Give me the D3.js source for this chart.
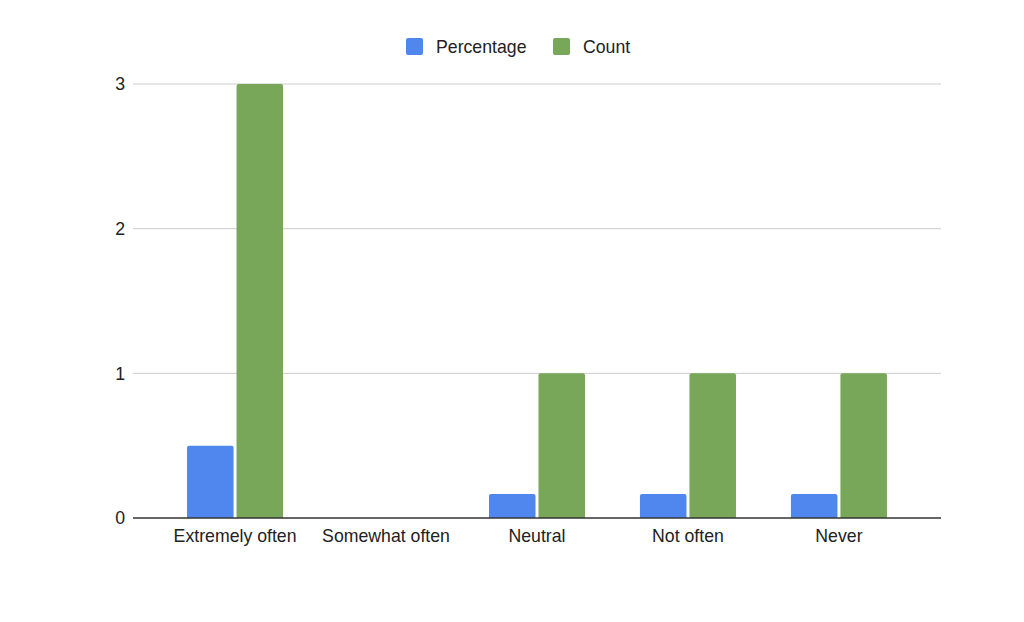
<!DOCTYPE html>
<html>
<head>
<meta charset="utf-8">
<script src="https://cdn.jsdelivr.net/npm/d3@7"></script>
<style>
  body { margin: 0; background: #fff; }
  text { font-family: Arial, "Liberation Sans", sans-serif; fill: #222; }
</style>
</head>
<body>
<svg id="chart"></svg>
<script>
// chart data
let categories = ['Extremely often', 'Somewhat often', 'Neutral', 'Not often', 'Never']
let seriesNames = ['Percentage', 'Count']
let percentage = [0.5, 0, 0.1667, 0.1667, 0.1667]
let count = [3, 0, 1, 1, 1]
let yTicks = [0, 1, 2, 3]

let colors = ['#5087ee', '#78a75a']
let width = 1024, height = 622
let margin = { left: 133, right: 83, top: 84, bottom: 104 }
let fontSize = 17.7

let svg = d3.select('#chart').attr('width', width).attr('height', height)

let x = d3.scaleBand()
    .domain(categories)
    .range([margin.left, width - margin.right])
    .paddingInner(0.364)
    .paddingOuter(0.358)

let xInner = d3.scaleBand()
    .domain(seriesNames)
    .range([0, x.bandwidth()])
    .paddingInner(0.06)

let y = d3.scaleLinear()
    .domain([0, 3])
    .range([height - margin.bottom, margin.top])

// gridlines
svg.append('g')
    .selectAll('line')
    .data(yTicks.filter(t => t > 0))
    .join('line')
    .attr('x1', margin.left)
    .attr('x2', width - margin.right)
    .attr('y1', d => y(d))
    .attr('y2', d => y(d))
    .attr('stroke', '#cccccc')
    .attr('stroke-width', 1)

// y axis labels
let yAxis = d3.axisLeft(y).tickValues(yTicks).tickSize(0).tickPadding(8).tickFormat(d3.format('d'))
svg.append('g')
    .attr('transform', `translate(${margin.left},0)`)
    .call(yAxis)
    .call(g => g.select('.domain').remove())
    .call(g => g.selectAll('text').attr('font-size', fontSize).style('font-family', 'Arial, "Liberation Sans", sans-serif').attr('fill', '#222'))

// bars
let rows = categories.map((c, i) => ({ cat: c, vals: [percentage[i], count[i]] }))
let groups = svg.append('g')
    .selectAll('g')
    .data(rows)
    .join('g')
    .attr('transform', d => `translate(${x(d.cat)},0)`)

groups.selectAll('path')
    .data(d => d.vals.map((v, j) => ({ name: seriesNames[j], v: v, j: j })).filter(e => e.v > 0))
    .join('path')
    .attr('fill', d => colors[d.j])
    .attr('d', d => {
        let x0 = xInner(d.name), w = xInner.bandwidth()
        let y0 = y(d.v), y1 = y(0), r = 2
        return `M${x0},${y1}V${y0 + r}Q${x0},${y0} ${x0 + r},${y0}H${x0 + w - r}Q${x0 + w},${y0} ${x0 + w},${y0 + r}V${y1}Z`
    })

// baseline
svg.append('line')
    .attr('x1', margin.left)
    .attr('x2', width - margin.right)
    .attr('y1', y(0))
    .attr('y2', y(0))
    .attr('stroke', '#333333')
    .attr('stroke-width', 1.3)

// x axis labels
let xAxis = d3.axisBottom(x).tickSize(0).tickPadding(11)
svg.append('g')
    .attr('transform', `translate(0,${y(0)})`)
    .call(xAxis)
    .call(g => g.select('.domain').remove())
    .call(g => g.selectAll('text').attr('font-size', fontSize).style('font-family', 'Arial, "Liberation Sans", sans-serif').attr('fill', '#222'))

// legend
let legendPos = [406, 553]
let legend = svg.append('g')
    .selectAll('g')
    .data(seriesNames)
    .join('g')
    .attr('transform', (d, i) => `translate(${legendPos[i]},38)`)
legend.append('rect')
    .attr('width', 17).attr('height', 17).attr('rx', 2)
    .attr('fill', (d, i) => colors[i])
legend.append('text')
    .attr('x', 30).attr('y', 9)
    .attr('dy', '0.35em')
    .attr('font-size', fontSize)
    .text(d => d)
</script>
</body>
</html>
